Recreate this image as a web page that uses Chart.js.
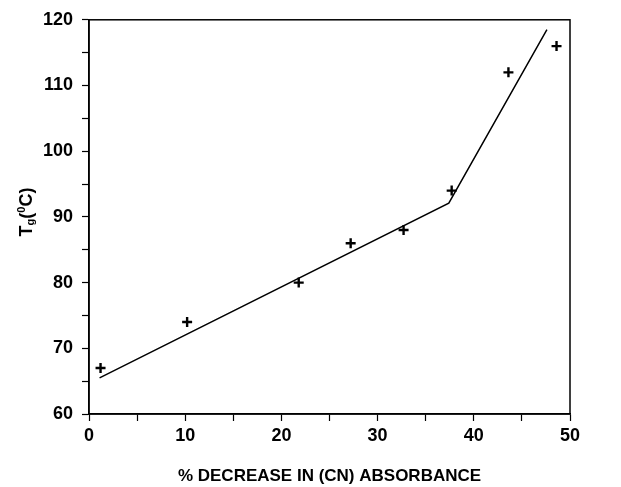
<!DOCTYPE html>
<html>
<head>
<meta charset="utf-8">
<script src="https://cdn.jsdelivr.net/npm/chart.js@4.4.0/dist/chart.umd.min.js"></script>
<style>
  body { margin: 0; background: #fff; }
  #wrap { width: 621px; height: 487px; }
</style>
</head>
<body>
<div id="wrap"><canvas id="myChart"></canvas></div>
<script>
// measured points
const decrease = [1.2, 10.2, 21.8, 27.2, 32.7, 37.7, 43.6, 48.6];
const tg = [67, 74, 80, 86, 88, 94, 112, 116];
// fitted two-segment line
const fitX = [1.1, 37.4, 47.6];
const fitY = [65.5, 92.1, 118.5];

const xTitle = '% DECREASE IN (CN) ABSORBANCE';

const font = "'Liberation Sans', Arial, sans-serif";

// frame + y axis title with sub/superscript
const extras = {
  id: 'extras',
  afterDraw(chart) {
    const ctx = chart.ctx;
    const a = chart.chartArea;
    ctx.save();
    ctx.strokeStyle = '#000';
    ctx.lineWidth = 1.5;
    ctx.strokeRect(a.left, a.top, a.right - a.left, a.bottom - a.top);

    ctx.translate(27, 212);
    ctx.rotate(-Math.PI / 2);
    ctx.fillStyle = '#000';
    ctx.textBaseline = 'middle';
    const big = 'bold 18px ' + font;
    const small = 'bold 11px ' + font;
    const parts = [
      ['T', big, 0], ['g', small, 4], ['(', big, 0],
      ['0', small, -5], ['C)', big, 0]
    ];
    let w = 0;
    parts.forEach(p => { ctx.font = p[1]; w += ctx.measureText(p[0]).width; });
    let x = -w / 2;
    parts.forEach(p => {
      ctx.font = p[1];
      ctx.fillText(p[0], x, p[2]);
      x += ctx.measureText(p[0]).width;
    });
    ctx.restore();
  }
};

const ctx = document.getElementById('myChart').getContext('2d');
new Chart(ctx, {
  type: 'scatter',
  data: {
    datasets: [
      {
        label: 'Tg',
        data: decrease.map((v, i) => ({ x: v, y: tg[i] })),
        pointStyle: 'cross',
        pointRadius: 5,
        pointBorderWidth: 2.4,
        borderColor: '#000',
        backgroundColor: '#000',
        showLine: false
      },
      {
        label: 'fit',
        data: fitX.map((v, i) => ({ x: v, y: fitY[i] })),
        showLine: true,
        pointRadius: 0,
        borderColor: '#000',
        borderWidth: 1.5,
        fill: false
      }
    ]
  },
  options: {
    responsive: true,
    maintainAspectRatio: false,
    animation: false,
    layout: { padding: { top: 18, right: 51, left: 0, bottom: 0 } },
    plugins: {
      legend: { display: false },
      tooltip: { enabled: false }
    },
    scales: {
      x: {
        type: 'linear',
        min: 0,
        max: 50,
        afterFit(scale) { scale.height = 73; },
        grid: { drawOnChartArea: false, tickLength: 7, tickColor: '#000', tickWidth: 1.2 },
        border: { color: '#000', width: 1.5 },
        ticks: {
          stepSize: 5,
          autoSkip: false,
          maxRotation: 0,
          padding: 4,
          color: '#000',
          font: { family: font, size: 18, weight: 'bold' },
          callback: v => (v % 10 === 0 ? v : '')
        },
        title: {
          display: true,
          text: xTitle,
          color: '#000',
          font: { family: font, size: 17, weight: 'bold' },
          padding: { top: 12, bottom: 0 }
        }
      },
      y: {
        min: 60,
        max: 120,
        afterFit(scale) { scale.width = 89; },
        grid: { drawOnChartArea: false, tickLength: 7, tickColor: '#000', tickWidth: 1.2 },
        border: { color: '#000', width: 1.5 },
        ticks: {
          stepSize: 5,
          autoSkip: false,
          padding: 9,
          color: '#000',
          font: { family: font, size: 18, weight: 'bold' },
          callback: v => (v % 10 === 0 ? v : '')
        }
      }
    }
  },
  plugins: [extras]
});
</script>
</body>
</html>
